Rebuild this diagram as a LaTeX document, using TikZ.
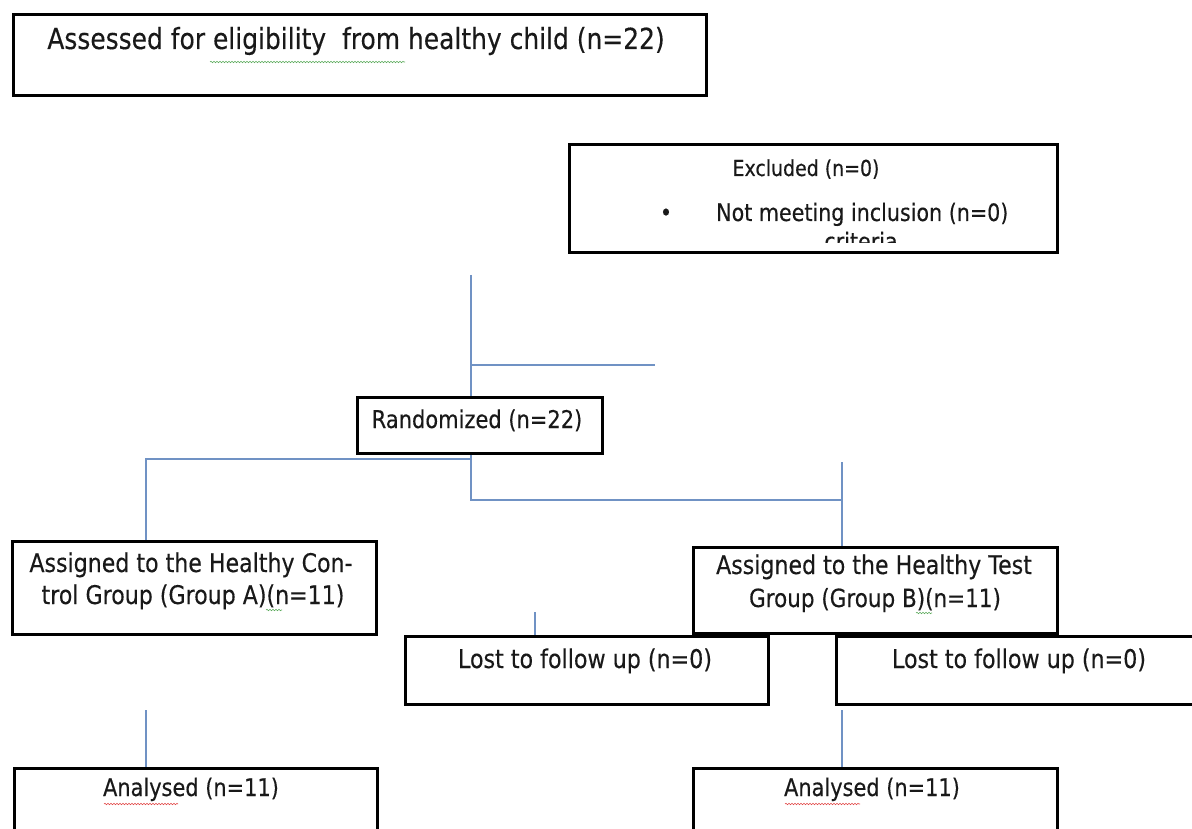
\documentclass[tikz,border=0pt]{standalone}
\usepackage{fontspec}
\setmainfont{DejaVu Sans}[FakeStretch=0.86,FakeBold=0.3]
\usetikzlibrary{decorations.pathmorphing}
\definecolor{linkblue}{RGB}{112,146,196}
\definecolor{spellgreen}{RGB}{90,170,90}
\definecolor{spellred}{RGB}{225,70,70}
\begin{document}
\begin{tikzpicture}[x=1pt,y=-1pt,
  box/.style={draw=black,line width=3pt,inner sep=0pt,anchor=north west},
  txt/.style={inner sep=0pt,anchor=base,text=black!90,font=\fontsize{#1}{#1}\selectfont},
  txt/.default=24,
  conn/.style={draw=linkblue,line width=1.3pt},
  wavy/.style={decorate,decoration={snake,amplitude=0.7pt,segment length=3pt},line width=0.6pt}]
\useasboundingbox (0,0) rectangle (1192,829);

% boxes
\node[box,minimum width=693pt,minimum height=81pt] (assess) at (11.5,13.5) {};
\node[box,minimum width=488pt,minimum height=108pt] (excl) at (567.5,143) {};
\node[box,minimum width=245pt,minimum height=56pt] (rand) at (356,396) {};
\node[box,minimum width=364pt,minimum height=93pt] (grpA) at (11,540) {};
\node[box,minimum width=364pt,minimum height=86pt] (grpB) at (692,546) {};
\node[box,minimum width=363pt,minimum height=68pt] (lost1) at (404,635) {};
\node[box,minimum width=362pt,minimum height=68pt] (lost2) at (835,635) {};
\node[box,minimum width=363pt,minimum height=90pt] (anA) at (12.5,767) {};
\node[box,minimum width=364pt,minimum height=90pt] (anB) at (692,767) {};

% texts
\node[txt=29] (tassess) at (356,49) {Assessed for eligibility\ \ from healthy child (n=22)};
\node[txt=22] (texcl) at (806,176) {Excluded (n=0)};
\node[txt=24] (tbullet) at (666,221) {•};
\node[txt=24,anchor=base west] (tnot) at (716,221) {Not meeting inclusion (n=0)};
\begin{scope}
\clip (600,225) rectangle (1000,243);
\node[txt=24] (tcrit) at (861,250) {criteria};
\end{scope}
\node[txt=24.4] (trand) at (477,428) {Randomized (n=22)};
\node[txt=25.7] (tA1) at (191,572) {Assigned to the Healthy Con-};
\node[txt=25.7] (tA2) at (193,604) {trol Group (Group A)(n=11)};
\node[txt=25.7] (tB1) at (874,574) {Assigned to the Healthy Test};
\node[txt=25] (tB2) at (875,607) {Group (Group B)(n=11)};
\node[txt=25.8] (tL1) at (585,668) {Lost to follow up (n=0)};
\node[txt=25.8] (tL2) at (1019,668) {Lost to follow up (n=0)};
\node[txt=24.3] (tanA) at (191,796) {Analysed (n=11)};
\node[txt=24.3] (tanB) at (872,796) {Analysed (n=11)};

% spell-check underlines
\draw[wavy,spellgreen] (210,62) -- (405,62);
\draw[wavy,spellgreen] (266,610) -- (282,610);
\draw[wavy,spellgreen] (916,613) -- (932,613);
\draw[wavy,spellred] (104,804) -- (178,804);
\draw[wavy,spellred] (785,804) -- (860,804);

% connectors
\coordinate (c1) at (471,275);
\coordinate (c2) at (471,365);
\coordinate (c3) at (655,365);
\coordinate (c4) at (471,500);
\coordinate (c5) at (842,500);
\coordinate (c6) at (842,462);
\coordinate (c7) at (146,459);
\coordinate (c8) at (472,459);
\coordinate (c9) at (535,612);
\coordinate (c10) at (146,710);
\coordinate (c11) at (842,710);

\draw[conn] (c1) -- (c1 |- rand.north);
\draw[conn] (c2) -- (c3);
\draw[conn] (c1 |- rand.south) -- (c4) -- (c5);
\draw[conn] (c6) -- (c6 |- grpB.north);
\draw[conn] (c8) -- (c7) -- (c7 |- grpA.north);
\draw[conn] (c9) -- (c9 |- lost1.north);
\draw[conn] (c10) -- (c10 |- anA.north);
\draw[conn] (c11) -- (c11 |- anB.north);
\end{tikzpicture}
\end{document}
